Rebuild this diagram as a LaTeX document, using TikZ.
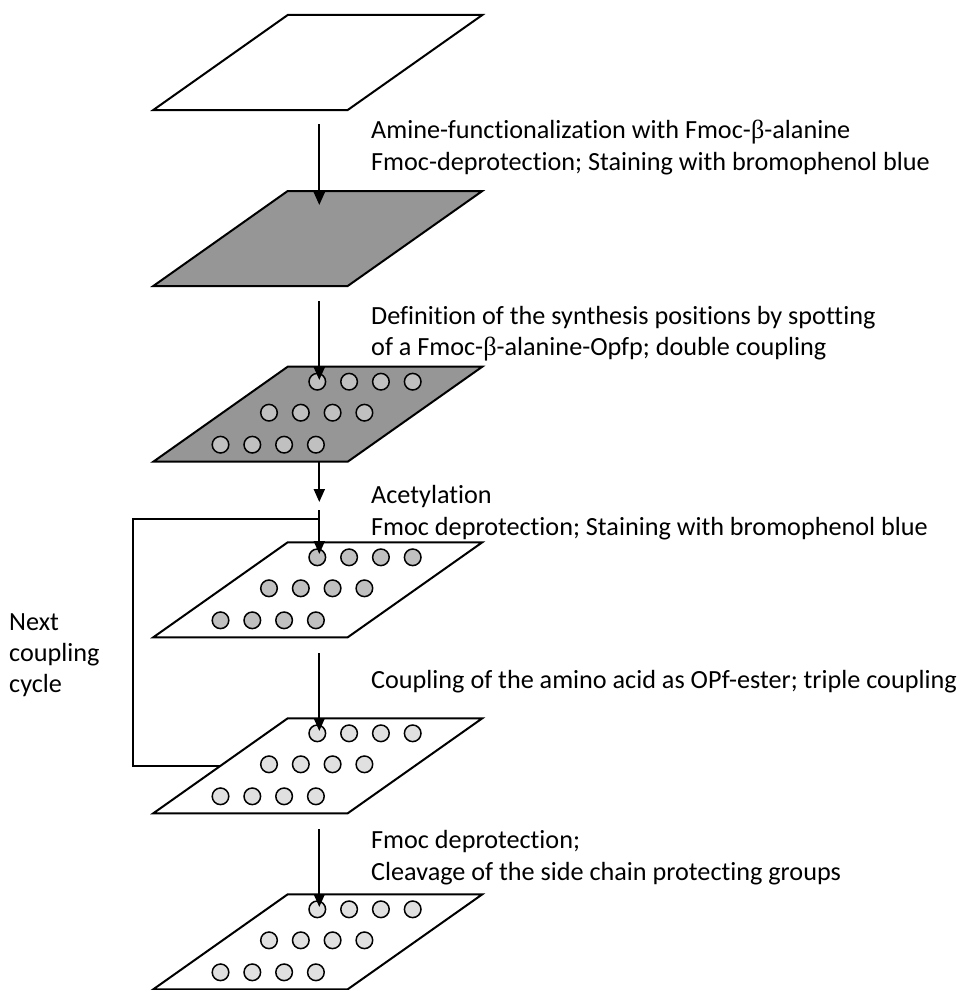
\documentclass[tikz,border=0pt]{standalone}
\usepackage{fontspec}
\setmainfont{Carlito}[Ligatures=NoCommon]
\newfontfamily\grk{Liberation Serif}
\usetikzlibrary{arrows.meta}
\definecolor{plategray}{RGB}{150,150,150}
\definecolor{dotdark}{RGB}{192,192,192}
\definecolor{dotlight}{RGB}{224,224,224}
\newcommand\drawplate[2]{%
  \draw[plate,fill=#2] (287.7,#1) -- (482.3,#1) -- (347.7,#1+95) -- (153.3,#1+95) -- cycle;}
\newcommand\drawspots[2]{%
  \foreach \xs/\dy in {317.3/15, 269/46, 220.5/78}
    \foreach \k in {0,...,3}
      \draw[spot,fill=#2] ({\xs+31.8*\k},#1+\dy) circle[radius=8.3];}
\begin{document}
\begin{tikzpicture}[x=1pt,y=-1pt,
  plate/.style={draw=black,line width=2pt,line join=miter},
  spot/.style={draw=black,line width=1.5pt},
  arr/.style={line width=2pt,-{Triangle[length=13pt,width=11pt]}},
  loopline/.style={line width=1.7pt},
  lbl/.style={anchor=base west,inner sep=0pt,font=\fontsize{26.2}{32}\selectfont}]
\useasboundingbox (0,0) rectangle (962,990);

% plates
\drawplate{15}{white}
\drawplate{191}{plategray}
\drawplate{366.7}{plategray}\drawspots{366.7}{dotdark}
\drawplate{542.3}{white}\drawspots{542.3}{dotdark}
\drawplate{718.3}{white}\drawspots{718.3}{dotlight}
\drawplate{894.3}{white}\drawspots{894.3}{dotlight}

% arrow end points
\coordinate (a1s) at (319.3,124);
\coordinate (a1e) at (319.3,205);
\coordinate (a2s) at (319.3,301);
\coordinate (a2e) at (319.3,380);
\coordinate (a3s) at (319.3,461);
\coordinate (a3e) at (319.3,502);
\coordinate (a4s) at (319.3,510);
\coordinate (a4e) at (319.3,554);
\coordinate (a5s) at (319.3,653);
\coordinate (a5e) at (319.3,731);
\coordinate (a6s) at (319.3,829);
\coordinate (a6e) at (319.3,907);
% loop
\coordinate (lj) at (319.3,519);
\coordinate (lc1) at (132.7,519);
\coordinate (lc2) at (132.7,766);
\coordinate (lend) at (219.7,766);

\draw[arr] (a1s) -- (a1e);
\draw[arr] (a2s) -- (a2e);
\draw[arr] (a3s) -- (a3e);
\draw[arr] (a4s) -- (a4e);
\draw[arr] (a5s) -- (a5e);
\draw[arr] (a6s) -- (a6e);
\draw[loopline] (lj) -- (lc1) -- (lc2) -- (lend);

% labels
\node[lbl] (t1a) at (371,138) {Amine-functionalization with Fmoc-{\grk β}-alanine};
\node[lbl] (t1b) at (371,170) {Fmoc-deprotection; Staining with bromophenol blue};
\node[lbl] (t2a) at (371,324) {Definition of the synthesis positions by spotting};
\node[lbl] (t2b) at (371,355) {of a Fmoc-{\grk β}-alanine-Opfp; double coupling};
\node[lbl] (t3a) at (371,503) {Acetylation};
\node[lbl] (t3b) at (371,535) {Fmoc deprotection; Staining with bromophenol blue};
\node[lbl] (t4) at (371,688) {Coupling of the amino acid as OPf-ester; triple coupling};
\node[lbl] (t5a) at (371,848) {Fmoc deprotection;};
\node[lbl] (t5b) at (371,880) {Cleavage of the side chain protecting groups};
\node[lbl] (n1) at (9,630) {Next};
\node[lbl] (n2) at (9,661) {coupling};
\node[lbl] (n3) at (9,692) {cycle};
\end{tikzpicture}
\end{document}
